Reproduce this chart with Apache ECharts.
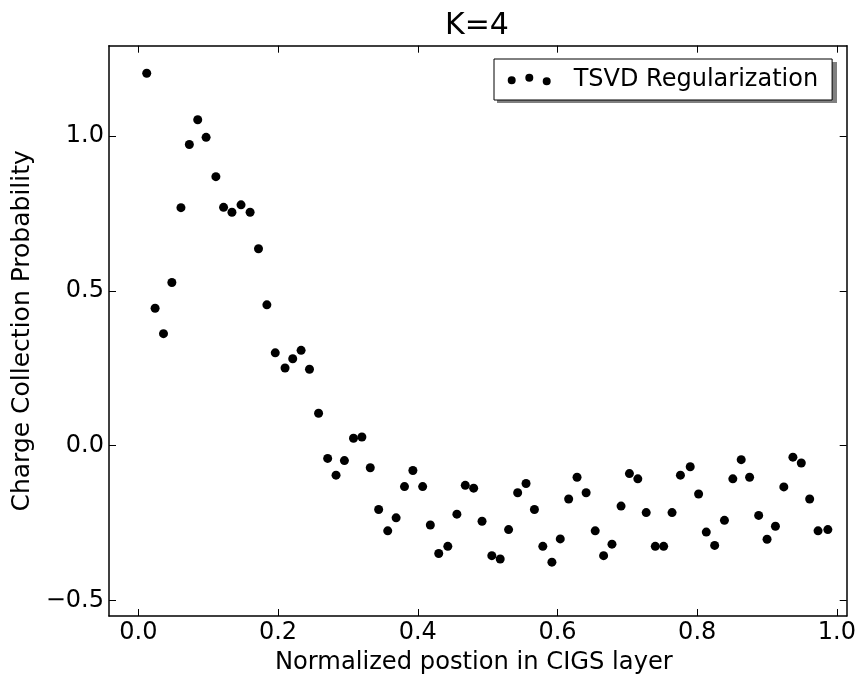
<!DOCTYPE html>
<html>
<head>
<meta charset="utf-8">
<script src="https://cdn.jsdelivr.net/npm/echarts@6/dist/echarts.min.js"></script>
<style>
html,body{margin:0;padding:0;background:#fff;}
#chart{width:859px;height:685px;}
</style>
</head>
<body>
<div id="chart"></div>
<script>
// ---- data ----
const titleText = 'K=4';
const seriesName = 'TSVD Regularization';
const xAxisName = 'Normalized postion in CIGS layer';
const yAxisName = 'Charge Collection Probability';

const xTicks = [0.0, 0.2, 0.4, 0.6, 0.8, 1.0];
const yTicks = [-0.5, 0.0, 0.5, 1.0];

const xVals = [
  0.012, 0.024, 0.036, 0.048, 0.061, 0.073, 0.085, 0.097, 0.111, 0.122,
  0.134, 0.147, 0.160, 0.172, 0.184, 0.196, 0.210, 0.221, 0.233, 0.245,
  0.258, 0.271, 0.283, 0.295, 0.308, 0.320, 0.332, 0.344, 0.357, 0.369,
  0.381, 0.393, 0.407, 0.418, 0.430, 0.443, 0.456, 0.468, 0.480, 0.492,
  0.506, 0.518, 0.530, 0.543, 0.555, 0.567, 0.579, 0.592, 0.604, 0.616,
  0.628, 0.641, 0.654, 0.666, 0.678, 0.691, 0.703, 0.715, 0.727, 0.740,
  0.752, 0.764, 0.776, 0.790, 0.802, 0.813, 0.825, 0.839, 0.851, 0.863,
  0.875, 0.888, 0.900, 0.912, 0.924, 0.937, 0.949, 0.961, 0.973, 0.987
];
const yVals = [
  1.203, 0.444, 0.362, 0.527, 0.769, 0.973, 1.053, 0.996, 0.869, 0.770,
  0.754, 0.778, 0.754, 0.636, 0.455, 0.300, 0.251, 0.281, 0.308, 0.247,
  0.105, -0.041, -0.095, -0.048, 0.024, 0.028, -0.071, -0.206, -0.275, -0.233,
  -0.132, -0.080, -0.132, -0.256, -0.348, -0.325, -0.221, -0.128, -0.137, -0.244,
  -0.355, -0.366, -0.271, -0.152, -0.122, -0.206, -0.325, -0.376, -0.301, -0.172,
  -0.102, -0.152, -0.275, -0.355, -0.318, -0.195, -0.090, -0.107, -0.216, -0.325,
  -0.325, -0.216, -0.095, -0.068, -0.156, -0.279, -0.322, -0.241, -0.107, -0.045,
  -0.102, -0.225, -0.302, -0.260, -0.133, -0.037, -0.056, -0.172, -0.275, -0.271
];

// ---- chart ----
const FONT = 'DejaVu Sans';
const xMin = -0.042, xMax = 1.014;
const yMin = -0.55, yMax = 1.292;

const fmt = v => v.toFixed(1).replace('-', '\u2212');

const points = xVals.map((x, i) => [x, yVals[i]]);

const axisLineStyle = { color: '#000', width: 1.5 };

function xAxisDef(pos, showLabels) {
  return {
    type: 'value', position: pos, min: xMin, max: xMax,
    name: showLabels ? xAxisName : '',
    nameLocation: 'middle', nameGap: 35,
    nameTextStyle: { fontFamily: FONT, fontSize: 24.2, color: '#000', padding: [0, 8, 0, 0] },
    axisLine: { show: true, onZero: false, lineStyle: axisLineStyle },
    axisTick: { show: true, inside: true, length: 7, customValues: xTicks, lineStyle: { color: '#000', width: 1 } },
    axisLabel: { show: showLabels, customValues: xTicks, formatter: fmt, margin: 5,
      fontFamily: FONT, fontSize: 24, color: '#000' },
    splitLine: { show: false }
  };
}
function yAxisDef(pos, showLabels) {
  return {
    type: 'value', position: pos, min: yMin, max: yMax,
    name: showLabels ? yAxisName : '',
    nameLocation: 'middle', nameGap: 59,
    nameTextStyle: { fontFamily: FONT, fontSize: 25, color: '#000' },
    axisLine: { show: true, onZero: false, lineStyle: axisLineStyle },
    axisTick: { show: true, inside: true, length: 7, customValues: yTicks, lineStyle: { color: '#000', width: 1 } },
    axisLabel: { show: showLabels, customValues: yTicks, formatter: fmt, margin: 5,
      fontFamily: FONT, fontSize: 24, color: '#000' },
    splitLine: { show: false }
  };
}

// legend icon: three dots at slightly different heights (matplotlib scatter legend)
const legendIcon = 'path://M0,6.3a4,4 0 1,0 8,0a4,4 0 1,0 -8,0Z' +
  'M17.6,4a4,4 0 1,0 8,0a4,4 0 1,0 -8,0Z' +
  'M35,7.3a4,4 0 1,0 8,0a4,4 0 1,0 -8,0Z';

const legendLeft = 494, legendTop = 59, legendW = 340, legendH = 41;

const chart = echarts.init(document.getElementById('chart'), null, { renderer: 'canvas' });
chart.setOption({
  backgroundColor: '#fff',
  animation: false,
  title: {
    text: titleText, left: 440, top: 6,
    textStyle: { fontFamily: FONT, fontSize: 30, fontWeight: 'normal', color: '#000' }
  },
  grid: { left: 109, right: 11.7, top: 45.7, bottom: 69, containLabel: false },
  graphic: [{
    // legend drop shadow
    type: 'rect', z: 3, silent: true,
    left: legendLeft + 3, top: legendTop + 3,
    shape: { width: legendW, height: legendH },
    style: { fill: '#808080' }
  }],
  legend: {
    left: legendLeft, top: legendTop, z: 5,
    data: [{ name: seriesName, icon: legendIcon }],
    itemWidth: 43, itemHeight: 11.3,
    symbolKeepAspect: true,
    padding: [8, 14, 8, 13.7],
    backgroundColor: '#fff',
    borderColor: '#000', borderWidth: 1, borderRadius: 0,
    itemStyle: { color: '#000', borderWidth: 0 },
    textStyle: { fontFamily: FONT, fontSize: 24, color: '#000', lineHeight: 25, padding: [0, 0, 0, 18] }
  },
  xAxis: [xAxisDef('bottom', true), xAxisDef('top', false)],
  yAxis: [yAxisDef('left', true), yAxisDef('right', false)],
  series: [{
    name: seriesName,
    type: 'scatter',
    xAxisIndex: 0, yAxisIndex: 0,
    data: points,
    symbol: 'circle',
    symbolSize: 9,
    itemStyle: { color: '#000', opacity: 1 }
  }]
});
</script>
</body>
</html>
